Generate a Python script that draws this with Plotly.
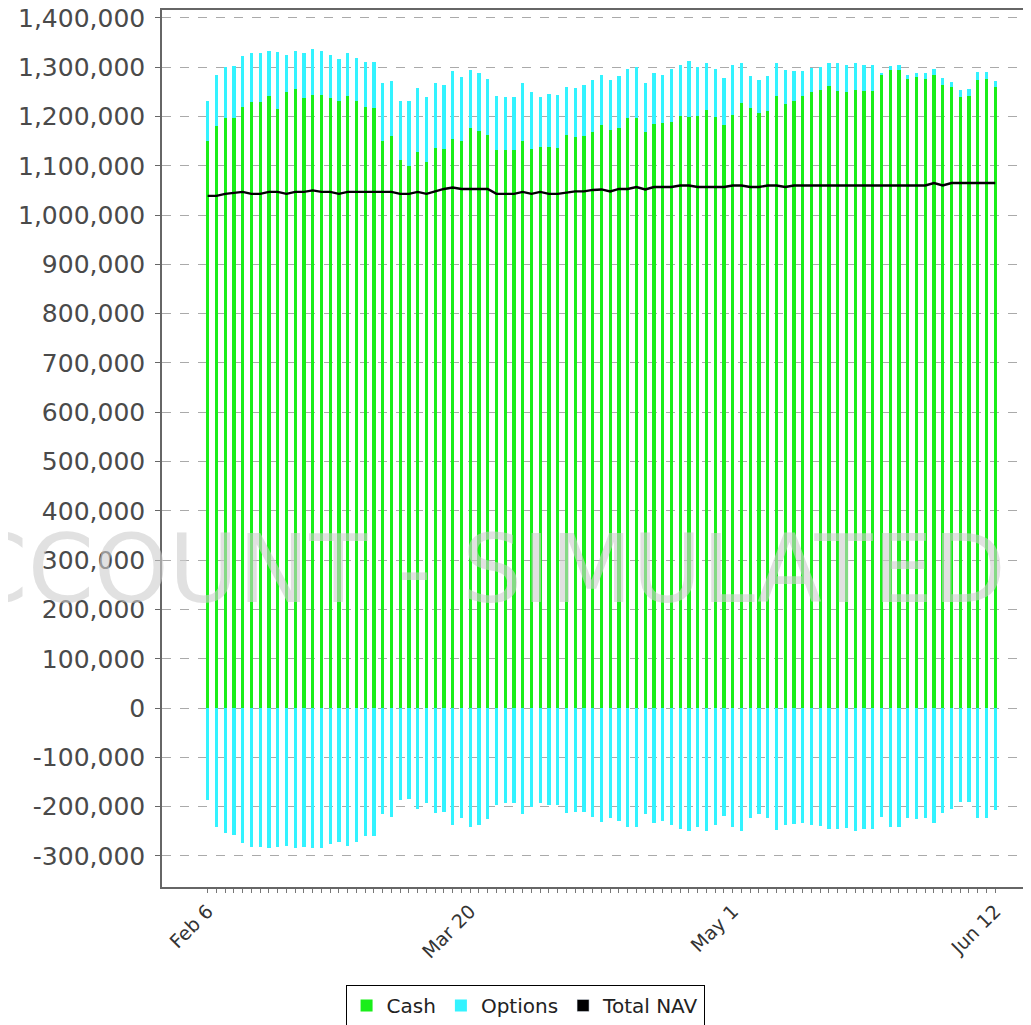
import plotly.graph_objects as go

# ---- data (91 trading days, Feb 6 .. Jun 12) ----
day_index = list(range(91))
tick_positions = [0, 30, 60, 90]
tick_labels = ["Feb 6", "Mar 20", "May 1", "Jun 12"]

cash = [1149500, 1180000, 1197000, 1197000, 1219000, 1230000, 1230000, 1241000, 1215000, 1250000,
        1255000, 1237000, 1244000, 1244000, 1237000, 1231500, 1241000, 1231500, 1219000, 1217000,
        1151000, 1160000, 1111000, 1100000, 1127000, 1107000, 1137000, 1134000, 1154000, 1151000,
        1177000, 1171000, 1162000, 1132500, 1132500, 1132500, 1151000, 1134500, 1138000, 1139000,
        1137000, 1162000, 1158000, 1160000, 1168000, 1183500, 1172000, 1177000, 1197000, 1196000,
        1168500, 1184000, 1187000, 1188000, 1202000, 1198000, 1202000, 1214000, 1199000, 1183500,
        1204000, 1227500, 1217000, 1207000, 1210500, 1241000, 1226000, 1231000, 1241000, 1250000,
        1253000, 1261000, 1251000, 1250000, 1254500, 1251000, 1251000, 1285000, 1295000, 1295000,
        1276000, 1280000, 1276000, 1285000, 1264000, 1259000, 1240000, 1241000, 1273500, 1276000,
        1259000]

options_long = [81500, 105000, 103700, 106000, 103000, 98000, 98000, 91000, 115500, 74000,
                77000, 91000, 92000, 88000, 87000, 84500, 87000, 87500, 91000, 93000,
                116000, 111000, 121000, 132000, 130000, 132000, 130000, 129000, 139000, 129000,
                118000, 117500, 114000, 109500, 107500, 107500, 116000, 115500, 102000, 107000,
                107000, 98000, 99000, 103000, 107000, 100500, 103000, 105000, 99600, 104000,
                98500, 104500, 97000, 108600, 103000, 114000, 98700, 95000, 97600, 94500,
                101000, 81500, 66000, 68000, 71500, 68000, 69000, 62000, 51000, 48600,
                47700, 48000, 56500, 55000, 54500, 54000, 54000, 1500, 8400, 10000,
                9000, 8500, 12500, 11600, 14000, 11000, 14600, 15000, 16400, 15000,
                12500]

options_short = [-186500, -240500, -252700, -257400, -274000, -281000, -281000, -283000, -281000, -280000,
                 -284500, -281000, -284500, -284500, -275700, -271000, -280000, -271000, -259500, -259500,
                 -215500, -222000, -186500, -185000, -205400, -191900, -213500, -210000, -237000, -223600,
                 -240500, -237000, -225000, -196600, -193000, -193000, -215000, -200000, -193000, -196600,
                 -196600, -213500, -210000, -211500, -220000, -231800, -223600, -228400, -240500, -242000,
                 -215000, -232400, -228400, -237000, -246000, -248600, -240500, -249000, -237000, -219000,
                 -240500, -248600, -223600, -215000, -223600, -247300, -237000, -235000, -232400, -237000,
                 -239000, -246000, -246000, -244000, -248600, -246000, -246000, -221600, -240500, -240500,
                 -223600, -225000, -223600, -232400, -213500, -205400, -190000, -190000, -223600, -223600,
                 -206800]

total_nav = [1039000, 1039000, 1043000, 1045000, 1047000, 1043000, 1043000, 1047000, 1047000, 1043000,
             1047000, 1047000, 1050000, 1047000, 1047000, 1043000, 1047000, 1047000, 1047000, 1047000,
             1047000, 1047000, 1043000, 1043000, 1047000, 1043000, 1048000, 1053000, 1056000, 1053000,
             1053000, 1053000, 1053000, 1043000, 1043000, 1043000, 1047000, 1043000, 1047000, 1043000,
             1043000, 1045000, 1048000, 1048000, 1051000, 1052000, 1048000, 1053000, 1053000, 1057000,
             1052000, 1057000, 1057000, 1057000, 1060000, 1060000, 1057000, 1057000, 1057000, 1057000,
             1060000, 1060000, 1057000, 1057000, 1060000, 1060000, 1057000, 1060000, 1060000, 1060000,
             1060000, 1060000, 1060000, 1060000, 1060000, 1060000, 1060000, 1060000, 1060000, 1060000,
             1060000, 1060000, 1060000, 1065000, 1060000, 1065000, 1065000, 1065000, 1065000, 1065000,
             1065000]

y_ticks = list(range(-300000, 1400001, 100000))
y_tick_text = [("-" if v < 0 else "") + f"{abs(v):,}" for v in y_ticks]

watermark = "ACCOUNT - SIMULATED"

GREEN = "#19ee19"
CYAN = "#33f3ff"
FONT = "DejaVu Sans"

fig = go.Figure()
fig.add_trace(go.Bar(x=day_index, y=cash, name="Cash", marker=dict(color=GREEN, line=dict(width=0)),
                     width=0.36, legendgroup="cash"))
fig.add_trace(go.Bar(x=day_index, y=options_long, name="Options", marker=dict(color=CYAN, line=dict(width=0)),
                     width=0.36, legendgroup="opt"))
fig.add_trace(go.Bar(x=day_index, y=options_short, name="Options", marker=dict(color=CYAN, line=dict(width=0)),
                     width=0.36, legendgroup="opt", showlegend=False))
fig.add_trace(go.Scatter(x=day_index, y=total_nav, name="Total NAV", mode="lines",
                         line=dict(color="black", width=2.4), legendgroup="nav", showlegend=False))
# legend swatch for Total NAV (square marker, like the original legend)
fig.add_trace(go.Bar(x=[None], y=[None], name="Total NAV", marker=dict(color="black"),
                     legendgroup="nav"))

fig.update_layout(
    width=1031, height=1025,
    barmode="relative",
    bargap=0,
    paper_bgcolor="white",
    plot_bgcolor="white",
    margin=dict(l=154, r=0, t=2, b=146),
    font=dict(family=FONT, color="#333"),
    showlegend=True,
    legend=dict(orientation="h", x=0.414, xanchor="center", y=-0.1117, yanchor="top",
                bordercolor="black", borderwidth=1, bgcolor="white",
                font=dict(family=FONT, size=20, color="#222"),
                itemwidth=30, traceorder="normal"),
    annotations=[dict(text=watermark, xref="paper", yref="paper", x=0.9647, y=0.3626,
                      xanchor="right", yanchor="middle", showarrow=False,
                      font=dict(family=FONT, size=95, color="rgba(205,205,205,0.6)"))],
)

fig.update_xaxes(
    range=[-5.22, 95.0],
    automargin=False,
    tickvals=day_index,
    ticktext=[tick_labels[tick_positions.index(i)] if i in tick_positions else "" for i in day_index],
    tickangle=-45,
    tickfont=dict(family=FONT, size=19, color="#333"),
    ticks="outside", ticklen=4, tickcolor="#777", tickwidth=1,
    showgrid=False, zeroline=False,
    showline=True, linecolor="#666", linewidth=1.5, mirror=True,
)
fig.update_yaxes(
    range=[-363000, 1416000],
    automargin=False,
    tickvals=y_ticks, ticktext=y_tick_text,
    tickfont=dict(family=FONT, size=25, color="#4a4a4a"),
    ticks="outside", ticklen=5, tickcolor="#666",
    ticklabelstandoff=5,
    ticklabeloverflow="allow",
    showgrid=True, gridcolor="#aaaaaa", griddash="dash", gridwidth=1,
    zeroline=False,
    showline=True, linecolor="#666", linewidth=1.5,
)

fig.write_html("out.html")
